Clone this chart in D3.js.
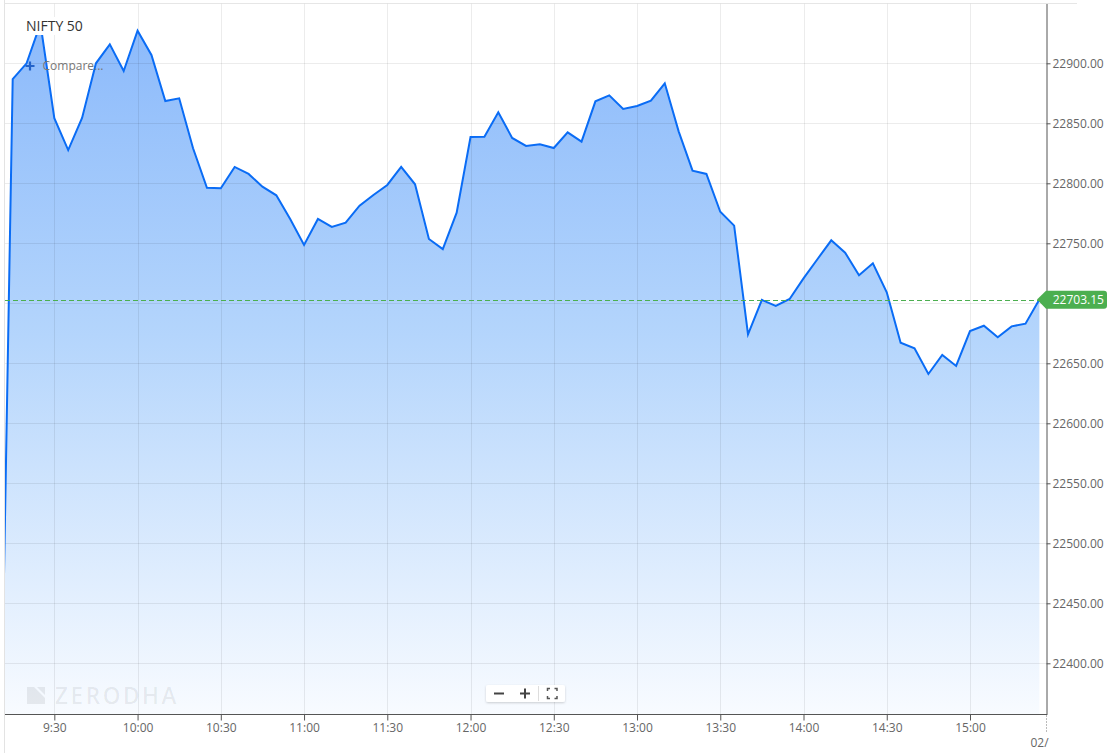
<!DOCTYPE html>
<html><head><meta charset="utf-8">
<script src="https://cdn.jsdelivr.net/npm/d3@7"></script>
<style>
body{margin:0;background:#fff;}
svg{display:block;font-family:"Open Sans",sans-serif;}
</style>
</head><body>
<svg id="c" width="1109" height="753"></svg>
<script>
// ---------- data ----------
const title = "NIFTY 50";
const compareLabel = "Compare...";
const times = ["09:10","09:15","09:20","09:25","09:30","09:35","09:40","09:45","09:50","09:55",
  "10:00","10:05","10:10","10:15","10:20","10:25","10:30","10:35","10:40","10:45","10:50","10:55",
  "11:00","11:05","11:10","11:15","11:20","11:25","11:30","11:35","11:40","11:45","11:50","11:55",
  "12:00","12:05","12:10","12:15","12:20","12:25","12:30","12:35","12:40","12:45","12:50","12:55",
  "13:00","13:05","13:10","13:15","13:20","13:25","13:30","13:35","13:40","13:45","13:50","13:55",
  "14:00","14:05","14:10","14:15","14:20","14:25","14:30","14:35","14:40","14:45","14:50","14:55",
  "15:00","15:05","15:10","15:15","15:20","15:25"];
const values = [22227,22886.9,22900.0,22933,22854.2,22827.7,22854.4,22900.0,22915.8,22893.6,
  22927.2,22906.9,22868.6,22870.8,22829.2,22796.3,22795.8,22813.6,22807.8,22797.2,22790.0,22770.3,
  22748.6,22770.3,22763.6,22767.2,22781.3,22790.3,22798.6,22813.6,22799.2,22753.6,22745.2,22775.5,
  22838.6,22838.8,22859.2,22837.8,22831.1,22832.5,22829.4,22842.5,22834.7,22868.3,22873.3,22861.9,
  22864.4,22868.8,22883.3,22843.3,22810.5,22807.8,22776.3,22764.7,22674.2,22702.8,22697.8,22703.6,
  22720.8,22736.7,22752.5,22742.2,22723.3,22733.3,22709.2,22667.2,22662.5,22641.1,22656.9,22647.8,
  22676.9,22681.3,22671.7,22680.8,22683.0,22703.15];
const priceTicks = [22400,22450,22500,22550,22600,22650,22700,22750,22800,22850,22900];
const priceLabelTicks = [22400,22450,22500,22550,22600,22650,22750,22800,22850,22900];
const timeTicks = ["09:30","10:00","10:30","11:00","11:30","12:00","12:30","13:00","13:30","14:00","14:30","15:00"];
const timeLabels = ["9:30","10:00","10:30","11:00","11:30","12:00","12:30","13:00","13:30","14:00","14:30","15:00"];
const lastPrice = 22703.15;
const dateLabel = "02/";
const watermark = "ZERODHA";

// ---------- layout ----------
const L = 5, R = 1046.5, T = 3.5, B = 714.5;
const parse = d3.timeParse("%H:%M");
const data = times.map((t, i) => ({ t: parse(t), v: values[i] }));
const x = d3.scaleTime().domain([parse("09:15"), parse("15:00")]).range([12.7, 970]);
const y = d3.scaleLinear().domain([22400, 22900]).range([663.3, 63.3]);

const svg = d3.select("#c");
const defs = svg.append("defs");
defs.append("clipPath").attr("id", "plot")
  .append("rect").attr("x", L).attr("y", T).attr("width", R - L).attr("height", B - T);
const grad = defs.append("linearGradient").attr("id", "fillg")
  .attr("gradientUnits", "userSpaceOnUse").attr("x1", 0).attr("y1", 25).attr("x2", 0).attr("y2", B);
grad.append("stop").attr("offset", 0).attr("stop-color", "#8cbafb");
grad.append("stop").attr("offset", 0.45).attr("stop-color", "#b4d5fc");
grad.append("stop").attr("offset", 1).attr("stop-color", "#f8fbff");
const sh = defs.append("filter").attr("id", "shadow").attr("x", "-20%").attr("y", "-40%").attr("width", "140%").attr("height", "180%");
sh.append("feDropShadow").attr("dx", 0).attr("dy", 1).attr("stdDeviation", 1.2).attr("flood-color", "#000").attr("flood-opacity", 0.18);

// frame
svg.append("line").attr("x1", 4.5).attr("x2", 4.5).attr("y1", 0).attr("y2", 753).attr("stroke", "#e3e3e3");
svg.append("line").attr("x1", 4.5).attr("x2", 1077).attr("y1", T).attr("y2", T).attr("stroke", "#e6e6e6");

const plot = svg.append("g").attr("clip-path", "url(#plot)");

// area
plot.append("path").datum(data)
  .attr("fill", "url(#fillg)")
  .attr("d", d3.area().x(d => x(d.t)).y0(B).y1(d => y(d.v)));

// grid
plot.append("g").selectAll("line").data(priceTicks).join("line")
  .attr("x1", L).attr("x2", R).attr("y1", d => Math.round(y(d)) + 0.5).attr("y2", d => Math.round(y(d)) + 0.5)
  .attr("stroke", "#000").attr("stroke-opacity", 0.075);
plot.append("g").selectAll("line").data(timeTicks).join("line")
  .attr("y1", T).attr("y2", B).attr("x1", d => Math.round(x(parse(d))) + 0.5).attr("x2", d => Math.round(x(parse(d))) + 0.5)
  .attr("stroke", "#000").attr("stroke-opacity", 0.075);

// watermark
const wm = svg.append("g").attr("fill", "#000").attr("fill-opacity", 0.07);
wm.append("path").attr("d", "M27,687 L34,687 L45,698 L45,704 L27,704 Z");
wm.append("path").attr("d", "M37,687 L45,687 L45,695 Z");
wm.append("text").attr("x", 55).attr("y", 704).attr("font-size", 22.5).attr("letter-spacing", 2.6).attr("font-weight", 600).text(watermark);

// line
plot.append("path").datum(data)
  .attr("fill", "none").attr("stroke", "#0a6cf5").attr("stroke-width", 2).attr("stroke-linejoin", "miter")
  .attr("d", d3.line().x(d => x(d.t)).y(d => y(d.v)));

// last price dashed line
const yp = y(lastPrice);
svg.append("line").attr("x1", L).attr("x2", R).attr("y1", Math.round(yp) + 0.5).attr("y2", Math.round(yp) + 0.5)
  .attr("stroke", "#4caf50").attr("stroke-width", 1).attr("stroke-dasharray", "5,3");

// legend box
svg.append("rect").attr("x", 24).attr("y", 17).attr("width", 64).attr("height", 18).attr("fill", "#fff");
svg.append("text").attr("x", 26).attr("y", 30.5).attr("font-size", 14).attr("fill", "#333").text(title);
svg.append("path").attr("d", "M25.5,66 L34.5,66 M30,61.5 L30,70.5").attr("stroke", "#2463c9").attr("stroke-width", 2.2);
svg.append("text").attr("x", 42.5).attr("y", 70).attr("font-size", 12).attr("fill", "#777").text(compareLabel);

// right axis
const yr = d3.scaleLinear().domain([y.invert(B), y.invert(T)]).range([B, T]);
const ya = svg.append("g").attr("transform", `translate(${R},0)`)
  .call(d3.axisRight(yr).tickValues(priceLabelTicks).tickFormat(d3.format(".2f")).tickSize(4).tickSizeOuter(0).tickPadding(2));
ya.select(".domain").attr("stroke", "#555");
ya.selectAll(".tick line").attr("stroke", "#555");
ya.selectAll(".tick text").attr("fill", "#666").attr("font-size", 12).attr("font-family", "Open Sans");

// bottom axis
const xa = svg.append("g").attr("transform", `translate(0,${B})`)
  .call(d3.axisBottom(x).tickValues(timeTicks.map(parse)).tickFormat((d, i) => timeLabels[i]).tickSize(6).tickSizeOuter(0).tickPadding(3));
xa.select(".domain").remove();
xa.selectAll(".tick line").attr("stroke", "#555");
xa.selectAll(".tick text").attr("fill", "#666").attr("font-size", 12).attr("font-family", "Open Sans");
svg.append("line").attr("x1", L).attr("x2", R + 0.5).attr("y1", B).attr("y2", B).attr("stroke", "#555");
svg.append("line").attr("x1", R).attr("x2", R).attr("y1", B + 1).attr("y2", 732)
  .attr("stroke", "#777").attr("stroke-dasharray", "1,2");
svg.append("text").attr("x", 1030.5).attr("y", 747).attr("font-size", 12).attr("fill", "#666").text(dateLabel);

// last price tag
svg.append("path").attr("d", `M1037,${yp} L1046,${yp - 8.8} L1104,${yp - 8.8} Q1107,${yp - 8.8} 1107,${yp - 5.8} L1107,${yp + 6.2} Q1107,${yp + 9.2} 1104,${yp + 9.2} L1046,${yp + 9.2} Z`)
  .attr("fill", "#4caf50");
svg.append("text").attr("x", 1052.7).attr("y", yp + 4.5).attr("font-size", 12).attr("fill", "#fff").text(d3.format(".2f")(lastPrice));

// zoom controls
const zc = svg.append("g");
zc.append("rect").attr("x", 486).attr("y", 685).attr("width", 79).attr("height", 17).attr("rx", 2)
  .attr("fill", "#fff").attr("filter", "url(#shadow)");
zc.append("path").attr("d", "M494,693.5 L504,693.5 M520,693.5 L530,693.5 M525,688.5 L525,698.5")
  .attr("stroke", "#444").attr("stroke-width", 2);
zc.append("line").attr("x1", 538.5).attr("x2", 538.5).attr("y1", 686).attr("y2", 701).attr("stroke", "#ddd");
zc.append("path").attr("d", "M547.5,691 L547.5,688.5 L550,688.5 M554.5,688.5 L557,688.5 L557,691 M557,696 L557,698.5 L554.5,698.5 M550,698.5 L547.5,698.5 L547.5,696")
  .attr("stroke", "#555").attr("stroke-width", 1.5).attr("fill", "none");
</script>
</body></html>
